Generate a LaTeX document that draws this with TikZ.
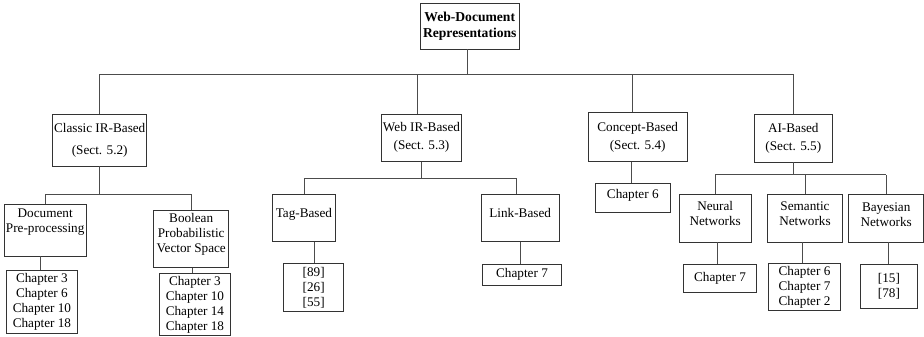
\documentclass[tikz,border=0pt]{standalone}
\usepackage{fontspec}
\setmainfont{Liberation Serif}
\usetikzlibrary{positioning}

\tikzset{
  box/.style={draw=black!80, line width=0.7pt, rectangle, align=center, inner sep=0pt,
    font=\fontsize{13.2}{15}\selectfont},
  wire/.style={draw=black!70, line width=0.7pt}
}

\begin{document}
\begin{tikzpicture}[x=1pt, y=-1pt]
  \useasboundingbox (0,0) rectangle (924,337);

  % top
  \node[box, font=\bfseries\fontsize{13.6}{16}\selectfont, minimum width=99.5, minimum height=46] (root) at (469.75,26) {Web-Document\\Representations};

  % second level
  \node[box, minimum width=94, minimum height=52] (classic) at (99.7,140) {Classic IR-Based\\[7pt](Sect. 5.2)};
  \node[box, minimum width=79.6, minimum height=47.3] (webir) at (421.5,137.7) {Web IR-Based\\[3pt](Sect. 5.3)};
  \node[box, minimum width=98.7, minimum height=49.4] (concept) at (637.7,137) {Concept-Based\\[3pt](Sect. 5.4)};
  \node[box, minimum width=78, minimum height=48] (ai) at (793.3,138) {AI-Based\\[3pt](Sect. 5.5)};

  % third level
  \node[box, minimum width=81.7, minimum height=51.7, text depth=19pt] (doc) at (45.2,230.2) {Document\\Pre-processing};
  \node[box, minimum width=75, minimum height=57.3, text depth=12pt] (bool) at (191.2,238.7) {Boolean\\Probabilistic\\Vector Space};
  \node[box, minimum width=62.3, minimum height=47.7, text depth=9pt] (tag) at (303.9,217.9) {Tag-Based};
  \node[box, minimum width=78.3, minimum height=47.7, text depth=10pt] (link) at (520.2,217.9) {Link-Based};
  \node[box, minimum width=71.7, minimum height=48, text depth=10pt] (neural) at (715.2,218) {Neural\\Networks};
  \node[box, minimum width=75.4, minimum height=48, text depth=8pt] (semantic) at (805,218) {Semantic\\Networks};
  \node[box, minimum width=75, minimum height=48, text depth=6pt] (bayes) at (886.2,218) {Bayesian\\Networks};

  % references
  \node[box, minimum width=70.3, minimum height=62.6] (docch) at (41.9,302) {Chapter 3\\Chapter 6\\Chapter 10\\Chapter 18};
  \node[box, minimum width=71.7, minimum height=62.4] (boolch) at (194.9,304.5) {Chapter 3\\Chapter 10\\Chapter 14\\Chapter 18};
  \node[box, minimum width=60, minimum height=48.4] (tagref) at (313.7,287.5) {[89]\\[0pt][26]\\[0pt][55]};
  \node[box, minimum width=78.6, minimum height=20.7] (linkch) at (522,274.7) {Chapter 7};
  \node[box, minimum width=75, minimum height=29, text depth=7pt] (conceptch) at (632.8,197.8) {Chapter 6};
  \node[box, minimum width=73.4, minimum height=28] (neuralch) at (720,278.3) {Chapter 7};
  \node[box, minimum width=71.6, minimum height=46.3] (semch) at (804.5,286.9) {Chapter 6\\Chapter 7\\Chapter 2};
  \node[box, minimum width=56.3, minimum height=44] (bayesch) at (888.9,286.3) {[15]\\[0pt][78]};

  % buses
  \coordinate (bus1) at (0,74.5);
  \coordinate (bus2) at (0,194);
  \coordinate (bus3) at (0,178.3);
  \coordinate (bus4) at (0,174.7);

  \draw[wire] ([xshift=-2.7]root.south) -- ([xshift=-2.7]root.south |- bus1);
  \draw[wire] (classic.north |- bus1) -- (ai.north |- bus1);
  \draw[wire] (classic.north) -- (classic.north |- bus1);
  \draw[wire] ([xshift=-4.2]webir.north) -- ([xshift=-4.2]webir.north |- bus1);
  \draw[wire] ([xshift=-5]concept.north) -- ([xshift=-5]concept.north |- bus1);
  \draw[wire] (ai.north) -- (ai.north |- bus1);

  \draw[wire] (classic.south) -- (classic.south |- bus2);
  \draw[wire] (doc.north |- bus2) -- (bool.north |- bus2);
  \draw[wire] (doc.north) -- (doc.north |- bus2);
  \draw[wire] (bool.north) -- (bool.north |- bus2);

  \draw[wire] (webir.south) -- (webir.south |- bus3);
  \draw[wire] (tag.north |- bus3) -- ([xshift=-3.9]link.north |- bus3);
  \draw[wire] (tag.north) -- (tag.north |- bus3);
  \draw[wire] ([xshift=-3.9]link.north) -- ([xshift=-3.9]link.north |- bus3);

  \draw[wire] (ai.south) -- (ai.south |- bus4);
  \draw[wire] (neural.north |- bus4) -- (bayes.north |- bus4);
  \draw[wire] (neural.north) -- (neural.north |- bus4);
  \draw[wire] (semantic.north) -- (semantic.north |- bus4);
  \draw[wire] (bayes.north) -- (bayes.north |- bus4);

  % leaves
  \draw[wire] ([xshift=-1.6]docch.north) -- ([xshift=-1.6]docch.north |- doc.south);
  \draw[wire] ([xshift=1.1]bool.south) -- ([xshift=1.1]bool.south |- boolch.north);
  \draw[wire] ([xshift=1]tagref.north) -- ([xshift=1]tagref.north |- tag.south);
  \draw[wire] (link.south) -- (link.south |- linkch.north);
  \draw[wire] ([xshift=-1.8]conceptch.north) -- ([xshift=-1.8]conceptch.north |- concept.south);
  \draw[wire] ([xshift=2.5]neural.south) -- ([xshift=2.5]neural.south |- neuralch.north);
  \draw[wire] ([xshift=-1.8]semch.north) -- ([xshift=-1.8]semch.north |- semantic.south);
  \draw[wire] ([xshift=1.8]bayes.south) -- ([xshift=1.8]bayes.south |- bayesch.north);
\end{tikzpicture}
\end{document}
